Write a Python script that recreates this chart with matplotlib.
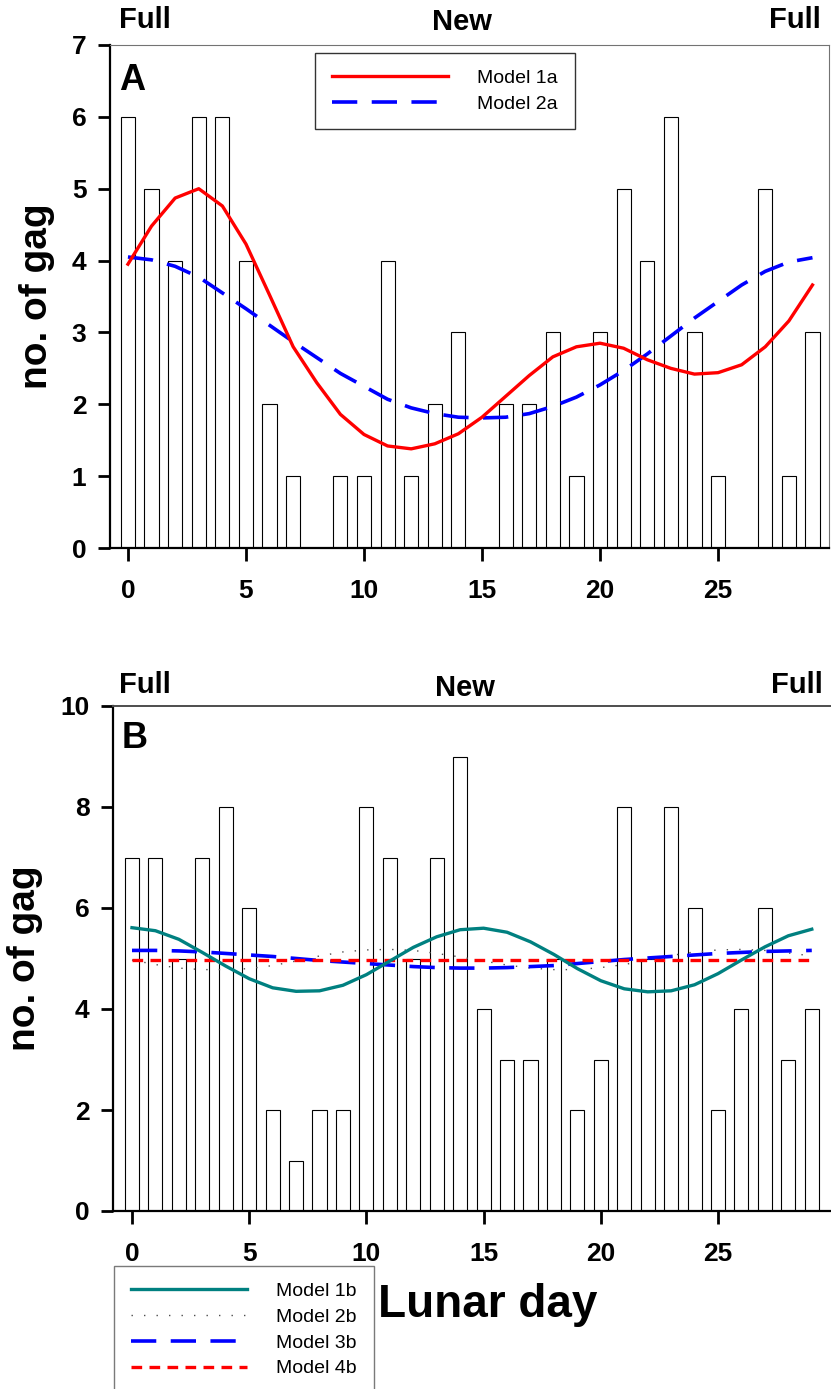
import matplotlib
matplotlib.use("Agg")
import matplotlib.pyplot as plt

plt.rcParams["font.family"] = ["Liberation Sans", "DejaVu Sans"]

W, H = 831, 1389

days = list(range(30))

# Panel A: counts per lunar day and fitted models
counts_a = [6, 5, 4, 6, 6, 4, 2, 1, 0, 1, 1, 4, 1, 2, 3,
            0, 2, 2, 3, 1, 3, 5, 4, 6, 3, 1, 0, 5, 1, 3]
model_1a = [3.95, 4.48, 4.87, 5.00, 4.76, 4.23, 3.52, 2.80, 2.30, 1.86,
            1.58, 1.42, 1.38, 1.45, 1.59, 1.82, 2.11, 2.40, 2.66, 2.80,
            2.85, 2.78, 2.62, 2.50, 2.42, 2.44, 2.55, 2.80, 3.16, 3.66]
model_2a = [4.05, 4.01, 3.92, 3.77, 3.55, 3.33, 3.10, 2.87, 2.65, 2.43,
            2.25, 2.07, 1.95, 1.87, 1.82, 1.81, 1.82, 1.87, 1.97, 2.10,
            2.27, 2.47, 2.70, 2.95, 3.20, 3.43, 3.66, 3.85, 3.98, 4.04]

# Panel B
counts_b = [7, 7, 5, 7, 8, 6, 2, 1, 2, 2, 8, 7, 5, 7, 9,
            4, 3, 3, 5, 2, 3, 8, 5, 8, 6, 2, 4, 6, 3, 4]
model_1b = [5.61, 5.55, 5.38, 5.12, 4.85, 4.60, 4.42, 4.35, 4.36, 4.47,
            4.68, 4.95, 5.22, 5.43, 5.57, 5.60, 5.52, 5.33, 5.08, 4.80,
            4.56, 4.40, 4.34, 4.36, 4.48, 4.70, 4.97, 5.23, 5.45, 5.58]
model_2b = [4.97, 4.88, 4.81, 4.78, 4.78, 4.80, 4.86, 4.95, 5.05, 5.13,
            5.17, 5.18, 5.16, 5.10, 5.03, 4.95, 4.87, 4.81, 4.78, 4.78,
            4.82, 4.88, 4.97, 5.06, 5.13, 5.17, 5.18, 5.16, 5.11, 5.05]
model_3b = [5.16, 5.16, 5.15, 5.13, 5.10, 5.07, 5.04, 5.00, 4.96, 4.93,
            4.90, 4.87, 4.84, 4.82, 4.81, 4.81, 4.82, 4.84, 4.86, 4.90,
            4.94, 4.98, 5.01, 5.04, 5.07, 5.10, 5.12, 5.14, 5.15, 5.16]
model_4b = [4.97] * 30

phase_labels = ["Full", "New", "Full"]
xticks = [0, 5, 10, 15, 20, 25]


def px_axes(fig, left, top, right, bottom):
    return fig.add_axes([left / W, 1 - bottom / H, (right - left) / W, (bottom - top) / H])


def style_axes(ax, yticks):
    ax.set_xticks(xticks)
    ax.set_yticks(yticks)
    ax.tick_params(direction="out", length=9, width=2, labelsize=19)
    ax.tick_params(axis="x", pad=13)
    ax.tick_params(axis="y", pad=8)
    for lab in ax.get_xticklabels() + ax.get_yticklabels():
        lab.set_fontweight("bold")
    for side in ("left", "bottom"):
        ax.spines[side].set_linewidth(1.6)
        ax.spines[side].set_color("black")
    ax.set_ylabel("no. of gag", fontsize=28, fontweight="bold", labelpad=12)


def fig_text(x, y, s, size, weight="bold"):
    fig.text(x / W, 1 - y / H, s, ha="center", va="center", fontsize=size, fontweight=weight)


def add_legend(ax, x, y, edge):
    leg = ax.legend(loc="upper left", bbox_to_anchor=(x / W, 1 - y / H),
                    bbox_transform=fig.transFigure, fontsize=14, handlelength=6.0,
                    handletextpad=1.5, borderpad=0.85, labelspacing=0.42,
                    borderaxespad=0, fancybox=False)
    leg.get_frame().set_edgecolor(edge)
    leg.get_frame().set_linewidth(1.0)
    return leg


fig = plt.figure(figsize=(W / 100, H / 100), dpi=100)

# ---- panel A ----
ax_a = px_axes(fig, 110, 45, 829, 548)
ax_a.bar(days, counts_a, width=0.6, color="white", edgecolor="black", linewidth=0.8, zorder=1)
ax_a.plot(days, model_1a, color="red", lw=2.4, label="Model 1a", zorder=3)
ax_a.plot(days, model_2a, color="blue", lw=2.6, dashes=(7, 4), label="Model 2a", zorder=2)
ax_a.set_xlim(-0.76, 29.7)
ax_a.set_ylim(0, 7)
style_axes(ax_a, range(0, 8))
for side in ("top", "right"):
    ax_a.spines[side].set_linewidth(0.8)
    ax_a.spines[side].set_color("0.45")
ax_a.text(0.012, 0.93, "A", transform=ax_a.transAxes, fontsize=26, fontweight="bold", va="center")
add_legend(ax_a, 315, 53, "black")

fig_text(145, 20, phase_labels[0], 21)
fig_text(462, 22, phase_labels[1], 21)
fig_text(795, 20, phase_labels[2], 21)

# ---- panel B ----
ax_b = px_axes(fig, 113, 706, 831, 1211)
ax_b.bar(days, counts_b, width=0.6, color="white", edgecolor="black", linewidth=0.8, zorder=1)
ax_b.plot(days, model_1b, color="#008080", lw=2.4, label="Model 1b", zorder=3)
ax_b.plot(days, model_2b, color="0.3", lw=1.0, dashes=(1, 8), label="Model 2b", zorder=2)
ax_b.plot(days, model_3b, color="blue", lw=2.6, dashes=(7, 4), label="Model 3b", zorder=2)
ax_b.plot(days, model_4b, color="red", lw=2.4, dashes=(3.2, 2.2), label="Model 4b", zorder=2)
ax_b.set_xlim(-0.81, 29.82)
ax_b.set_ylim(0, 10)
style_axes(ax_b, range(0, 11, 2))
ax_b.spines["right"].set_visible(False)
ax_b.spines["top"].set_linewidth(1.4)
ax_b.spines["top"].set_color("0.3")
ax_b.text(0.012, 0.935, "B", transform=ax_b.transAxes, fontsize=26, fontweight="bold", va="center")
add_legend(ax_b, 114, 1266, "0.35")

fig_text(145, 685, phase_labels[0], 21)
fig_text(465, 688, phase_labels[1], 21)
fig_text(797, 685, phase_labels[2], 21)
fig_text(488, 1305, "Lunar day", 33)

fig.savefig("out.png", dpi=100)
